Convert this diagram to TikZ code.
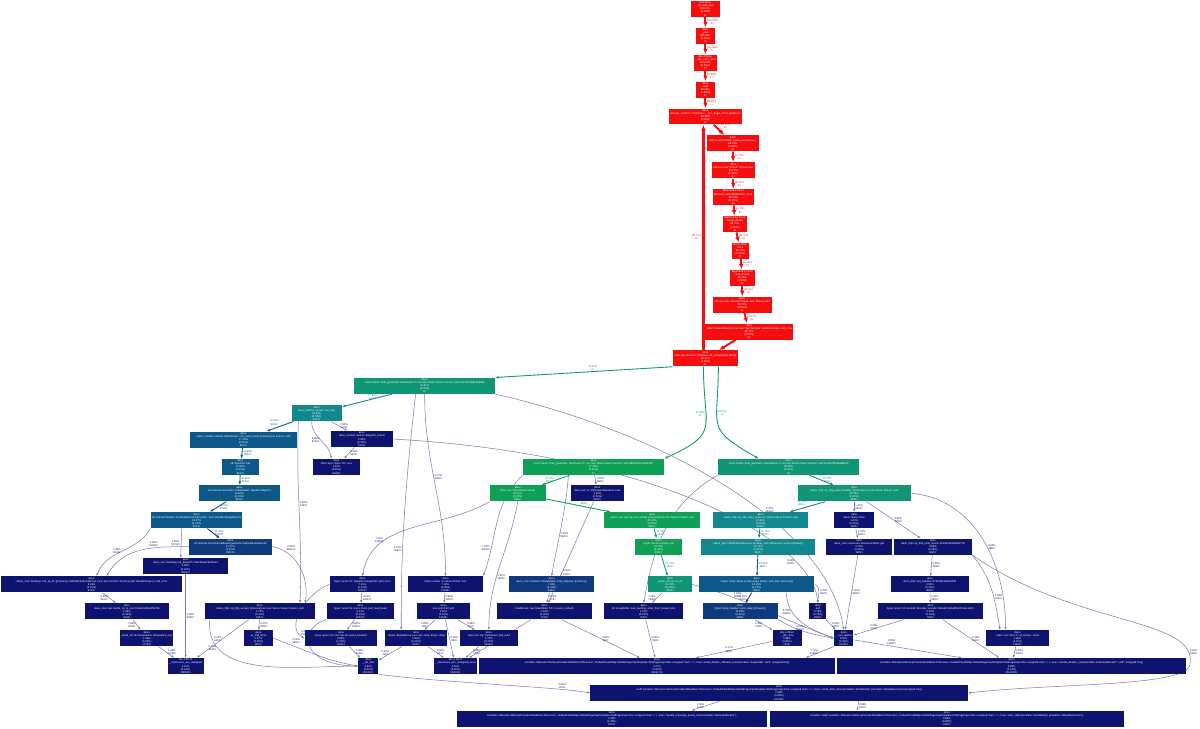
\documentclass[tikz,border=0pt]{standalone}
\usepackage{fontspec}
\setmainfont{Liberation Sans}
\usetikzlibrary{arrows.meta,backgrounds}
\definecolor{hotred}{RGB}{246,14,14}
\definecolor{navyc}{RGB}{14,19,112}
\definecolor{steelc}{RGB}{13,88,136}
\definecolor{bluec}{RGB}{15,58,128}
\definecolor{tealc}{RGB}{17,136,142}
\definecolor{seac}{RGB}{16,150,118}
\definecolor{greenc}{RGB}{13,160,86}
\newcommand\snalloc{snmalloc::Allocator<MemoryProviderStateMixin<PALLinux>, DefaultChunkMap<GlobalPagemapTemplate<FlatPagemap<20ul, unsigned char> > >, true>}
\tikzset{
  fn/.style={text=white,align=center,inner xsep=0.6pt,inner ysep=0.2pt,minimum height=0.32cm,font=\fontsize{1.5}{1.75}\selectfont},
  boxw/.style={minimum width=#1*0.02cm},
  hotfn/.style={fn,fill=hotred},
  coldfn/.style={fn,fill=navyc},
  steelfn/.style={fn,fill=steelc},
  bluefn/.style={fn,fill=bluec},
  tealfn/.style={fn,fill=tealc},
  seafn/.style={fn,fill=seac},
  greenfn/.style={fn,fill=greenc},
  call/.style={draw=navyc!55,line width=0.3pt,-{Latex[length=1.6pt,width=1.3pt]}},
  warmcall/.style={draw=#1,line width=0.5pt,-{Latex[length=2pt,width=1.6pt]}},
  hotcall/.style={draw=hotred,line width=1.1pt,-{Latex[length=3.2pt,width=2.6pt]}},
  lbl/.style={text=#1,font=\fontsize{1.5}{1.75}\selectfont,align=center,inner sep=0.5pt},
  lbl/.default=navyc
}
\begin{document}
\catcode`\_=12
\begin{tikzpicture}[x=0.02cm,y=-0.02cm]
  % hot thread chain
  \node[hotfn,boxw=29] (start) at (708.5,9) {ld-2.28.so\\_dl_start_user\\100.00\%\\(0.00\%)\\0×};
  \node[hotfn,boxw=19] (entry) at (708.5,36) {deno\\_start\\100.00\%\\(0.00\%)\\1×};
  \node[hotfn,boxw=19] (libcmain) at (708.5,63) {libc-2.28.so\\__libc_start_main\\100.00\%\\(0.00\%)\\1×};
  \node[hotfn,boxw=19] (main) at (708.5,90) {deno\\main\\99.99\%\\(0.00\%)\\1×};
  \node[hotfn,boxw=73] (shortbt) at (708.5,117) {deno\\std::sys_common::backtrace::__rust_begin_short_backtrace\\99.99\%\\(0.00\%)\\5×};
  \node[hotfn,boxw=52] (spawn) at (736,144) {deno\\std::thread::Builder::spawn_unchecked_\\99.71\%\\(0.00\%)\\4×};
  \node[hotfn,boxw=43] (threadnew) at (736.5,171) {deno\\std::sys::unix::thread::Thread::new\\99.71\%\\(0.00\%)\\4×};
  \node[hotfn,boxw=41] (pcreate) at (736.5,198) {libpthread-2.28.so\\pthread_create@@GLIBC_2.2.5\\99.71\%\\(0.00\%)\\4×};
  \node[hotfn,boxw=24] (cthread) at (738,225) {libpthread-2.28.so\\create_thread\\99.71\%\\(0.00\%)\\4×};
  \node[hotfn,boxw=17] (clone) at (743.5,252) {libc-2.28.so\\clone\\99.71\%\\(0.00\%)\\4×};
  \node[hotfn,boxw=25] (sthread) at (745.5,279) {libpthread-2.28.so\\start_thread\\99.71\%\\(0.00\%)\\4×};
  \node[hotfn,boxw=59] (tstart) at (745.5,306) {deno\\std::sys::unix::thread::Thread::new::thread_start\\99.71\%\\(0.00\%)\\4×};
  \node[hotfn,boxw=85] (boxcall) at (752.5,333) {deno\\<alloc::boxed::Box<F,A> as core::ops::function::FnOnce<Args>>::call_once\\99.71\%\\(0.00\%)\\4×};
  \node[hotfn,boxw=65] (vshim) at (708.5,360) {deno\\core::ops::function::FnOnce::call_once\{\{vtable.shim\}\}\\99.71\%\\(0.00\%)\\4×};
  % futures
  \node[seafn,boxw=141] (gen1) at (426.5,387.5) {deno\\<core::future::from_generator::GenFuture<T> as core::future::future::Future>::poll::h1f7d2c9a8e05b364\\32.87\%\\(0.04\%)\\0×};
  \node[greenfn,boxw=142] (gen2) at (596,469) {deno\\<core::future::from_generator::GenFuture<T> as core::future::future::Future>::poll::h8b04e61c5a93d2f7\\37.36\%\\(0.01\%)\\0×};
  \node[seafn,boxw=142] (gen3) at (792,469) {deno\\<core::future::from_generator::GenFuture<T> as core::future::future::Future>::poll::h3c9a7f02d4e8b615\\29.45\%\\(0.02\%)\\0×};
  % worker side
  \node[tealfn,boxw=50] (runloop) at (318,415) {deno\\deno_runtime::worker::run_loop\\32.61\%\\(0.03\%)\\8104×};
  \node[coldfn,boxw=63] (dispatch) at (363.5,441) {deno\\deno_runtime::worker::dispatch_events\\2.98\%\\(0.02\%)\\9120×};
  \node[coldfn,boxw=48] (recv) at (338,469) {deno\\tokio::sync::mpsc::Rx::recv\\1.02\%\\(0.55\%)\\18240×};
  \node[steelfn,boxw=107] (evloop) at (244.5,441.5) {deno\\<deno_runtime::worker::MainWorker::run_event_loop::\{\{closure\}\} as Future>::poll\\17.16\%\\(0.02\%)\\8104×};
  \node[steelfn,boxw=37] (fncall) at (241.5,469) {deno\\v8::Function::call\\16.98\%\\(0.01\%)\\8104×};
  \node[steelfn,boxw=81] (execcall) at (240.5,495.5) {deno\\v8::internal::Execution::Call(Isolate*, Handle<Object>)\\16.90\%\\(0.03\%)\\8104×};
  \node[steelfn,boxw=91] (invokeapi) at (197.5,522.5) {deno\\v8::internal::Builtins::InvokeApiFunction(Isolate*, bool, Handle<HeapObject>)\\15.27\%\\(0.21\%)\\8104×};
  \node[bluefn,boxw=83] (cbargs) at (231.5,549) {deno\\v8::internal::FunctionCallbackArguments::Call(CallHandlerInfo)\\11.37\%\\(0.12\%)\\30012×};
  \node[coldfn,boxw=85] (opdispatch) at (186.5,568.5) {deno\\deno_core::bindings::op_dispatch::h2e1f00a9c3d7b4e1\\3.82\%\\(0.40\%)\\30012×};
  \node[coldfn,boxw=182] (callopfn) at (92,587) {deno\\<deno_core::bindings::call_op_fn::\{\{closure\}\}::h44f1b2c0e9a7d6c3 as core::ops::function::FnOnce<(v8::HandleScope,)>>::call_once\\3.18\%\\(0.21\%)\\8104×};
  \node[coldfn,boxw=85] (torust) at (127.5,614) {deno\\deno_core::ops::serde_v8_to_rust::hb1a5c2d3e4f56789\\2.48\%\\(0.30\%)\\8104×};
  \node[coldfn,boxw=53] (deany) at (147.5,641) {deno\\serde_v8::de::Deserializer::deserialize_any\\1.69\%\\(0.62\%)\\17233×};
  \node[coldfn,boxw=33] (memmove) at (186.5,669) {libc-2.28.so\\__memmove_avx_unaligned\\2.91\%\\(2.91\%)\\290330×};
  \node[coldfn,boxw=110] (httpaccept) at (261,614) {deno\\<deno_http::op_http_accept::\{\{closure\}\} as core::future::future::Future>::poll\\2.74\%\\(0.11\%)\\4410×};
  \node[coldfn,boxw=29] (httpwrite) at (259.5,641) {deno\\op_http_write\\0.37\%\\(0.09\%)\\1850×};
  % hyper side
  \node[coldfn,boxw=66] (dispatcher) at (364,587) {deno\\hyper::proto::h1::dispatch::Dispatcher::poll_inner\\7.16\%\\(0.20\%)\\12022×};
  \node[coldfn,boxw=68] (readhead) at (362,614) {deno\\hyper::proto::h1::conn::Conn::poll_read_head\\4.21\%\\(0.18\%)\\12022×};
  \node[coldfn,boxw=73] (parsehdr) at (342.5,641) {deno\\hyper::proto::h1::role::Server::parse_headers\\2.68\%\\(1.10\%)\\12022×};
  \node[coldfn,boxw=20] (rdlalloc) at (370,669) {deno\\__rdl_alloc\\3.60\%\\(0.40\%)\\201220×};
  \node[coldfn,boxw=75] (ioturn) at (447.5,587) {deno\\tokio::runtime::io::driver::Driver::turn\\7.32\%\\(0.35\%)\\12640×};
  \node[coldfn,boxw=53] (mpoll) at (445.5,614) {deno\\mio::poll::Poll::poll\\2.81\%\\(0.13\%)\\12640×};
  \node[coldfn,boxw=62] (bytesdrop) at (418,641) {deno\\<bytes::BytesMut as core::ops::drop::Drop>::drop\\0.94\%\\(0.22\%)\\9120×};
  \node[coldfn,boxw=41] (memcpy) at (457.5,669) {libc-2.28.so\\__memmove_avx_unaligned_erms\\4.05\%\\(4.05\%)\\512004×};
  \node[coldfn,boxw=58] (tcpread) at (491,641) {deno\\tokio::net::tcp::TcpStream::poll_read\\1.79\%\\(0.31\%)\\12640×};
  \node[bluefn,boxw=86] (modeval) at (554,587) {deno\\deno_core::modules::ModuleMap::mod_evaluate::\{\{closure\}\}\\7.06\%\\(0.04\%)\\3820×};
  \node[coldfn,boxw=96] (rehash) at (547,614) {deno\\hashbrown::raw::RawTable<T,A>::reserve_rehash\\0.63\%\\(0.48\%)\\1210×};
  \node[greenfn,boxw=56] (listener) at (520,495.5) {deno\\tokio::net::TcpListener::accept\\25.41\%\\(0.03\%)\\3820×};
  \node[coldfn,boxw=54] (tcpres) at (600,495.5) {deno\\deno_net::io::TcpStreamResource::new\\1.22\%\\(0.10\%)\\3820×};
  % http side
  \node[greenfn,boxw=96] (netaccept) at (655,522.5) {deno\\<deno_net::ops::op_net_accept::\{\{closure\}\} as core::future::Future>::poll\\21.82\%\\(0.02\%)\\3820×};
  \node[greenfn,boxw=47] (accept) at (661.5,549) {deno\\hyper::server::accept::poll\\21.78\%\\(0.02\%)\\3820×};
  \node[seafn,boxw=44] (tov8) at (673,587) {deno\\serde_v8::ser::to_v8\\21.70\%\\(0.05\%)\\3820×};
  \node[coldfn,boxw=79] (backing) at (646.5,614) {deno\\v8::ArrayBuffer::new_backing_store_from_boxed_slice\\1.76\%\\(0.21\%)\\7640×};
  \node[seafn,boxw=114] (respwrite) at (858,495.5) {deno\\<deno_http::op_http_write_headers::\{\{closure\}\} as core::future::Future>::poll\\22.78\%\\(0.01\%)\\3820×};
  \node[tealfn,boxw=96] (writeres) at (764,522.5) {deno\\<deno_http::op_http_write_resource::\{\{closure\}\} as Future>::poll\\13.82\%\\(0.02\%)\\3820×};
  \node[coldfn,boxw=40] (bytesfrom) at (858,522.5) {deno\\bytes::Bytes::from\\1.43\%\\(0.20\%)\\3820×};
  \node[tealfn,boxw=115] (readreturn) at (761.5,549) {deno\\<deno_http::HttpStreamResource as deno_core::Resource>::write::\{\{closure\}\}\\13.76\%\\(0.04\%)\\3820×};
  \node[coldfn,boxw=66] (restable) at (863,549) {deno\\deno_core::resources::ResourceTable::get\\0.78\%\\(0.23\%)\\3820×};
  \node[steelfn,boxw=116] (reswrite) at (760,587) {deno\\<hyper::body::Body as http_body::Body>::poll_data::\{\{closure\}\}\\13.20\%\\(0.12\%)\\3820×};
  \node[bluefn,boxw=75] (senddata) at (743.5,614) {deno\\hyper::body::Sender::send_data::\{\{closure\}\}\\11.65\%\\(0.34\%)\\3820×};
  \node[coldfn,boxw=17] (pollfn) at (821.5,614) {deno\\poll\\0.78\%\\(0.78\%)\\3820×};
  \node[coldfn,boxw=29] (libcfree) at (790.5,641) {libc-2.28.so\\__libc_free\\0.98\%\\(0.81\%)\\7640×};
  \node[coldfn,boxw=19] (rustdealloc) at (847.5,641) {deno\\__rust_dealloc\\8.52\%\\(0.31\%)\\91240×};
  \node[coldfn,boxw=78] (readchunk) at (937,549) {deno\\deno_http::op_http_read_chunk::he1d2c3b4a5968778\\3.86\%\\(0.28\%)\\3820×};
  \node[coldfn,boxw=78] (reqheaders) at (934,587) {deno\\deno_http::req_headers::h7f0c9b1a2d3e4f56\\0.55\%\\(0.10\%)\\3820×};
  \node[coldfn,boxw=105] (encode) at (934.5,614) {deno\\hyper::proto::h1::encode::Encoder::encode::h91ab2c3d4e5f6a7b.llvm.4217\\2.30\%\\(0.16\%)\\7640×};
  \node[coldfn,boxw=64] (vecclone) at (1022,641) {deno\\<alloc::vec::Vec<T> as Clone>::clone\\2.86\%\\(0.37\%)\\11460×};
  % allocator
  \node[coldfn,boxw=358] (smalldealloc) at (660,669) {deno\\\snalloc::small_dealloc_offseted_inner(snmalloc::Superslab*, void*, unsigned long)\\4.27\%\\(3.90\%)\\2983174×};
  \node[coldfn,boxw=350] (remotedealloc) at (1016,669) {deno\\\snalloc::remote_dealloc_slow(snmalloc::RemoteAllocator*, void*, unsigned long)\\4.98\%\\(2.61\%)\\1502290×};
  \node[coldfn,boxw=379] (smallalloc) at (782.5,696) {deno\\void* \snalloc::small_alloc_slow<(snmalloc::ZeroMem)0, (snmalloc::AllowReserve)1>(unsigned long)\\2.58\%\\(0.66\%)\\120310×};
  \node[coldfn,boxw=311] (msgqueue) at (614.5,722) {deno\\\snalloc::handle_message_queue_inner(snmalloc::RemoteAllocator*)\\1.05\%\\(1.05\%)\\5210×};
  \node[coldfn,boxw=356] (allocslab) at (951,722) {deno\\snmalloc::Slab* \snalloc::alloc_slab<(snmalloc::ZeroMem)0, (snmalloc::AllowReserve)1>()\\0.86\%\\(0.80\%)\\4410×};

  \begin{scope}[on background layer]
    \fill[white] (0,0) rectangle (1200,732);
    % hot chain
    \draw[hotcall] (start) -- node[lbl=hotred,right]{100.00\%\\0×} (entry);
    \draw[hotcall] (entry) -- node[lbl=hotred,right]{100.00\%\\1×} (libcmain);
    \draw[hotcall] (libcmain) -- node[lbl=hotred,right]{99.99\%\\1×} (main);
    \draw[hotcall] (main) -- node[lbl=hotred,right]{99.99\%\\1×} (shortbt);
    \draw[hotcall] (shortbt) -- node[lbl=hotred,above right]{99.71\%\\4×} (spawn);
    \draw[hotcall] (spawn) -- node[lbl=hotred,right]{99.71\%\\4×} (threadnew);
    \draw[hotcall] (threadnew) -- node[lbl=hotred,right]{99.71\%\\4×} (pcreate);
    \draw[hotcall] (pcreate) -- node[lbl=hotred,right]{99.71\%\\4×} (cthread);
    \draw[hotcall] (cthread) -- node[lbl=hotred,right]{99.71\%\\4×} (clone);
    \draw[hotcall] (clone) -- node[lbl=hotred,right]{99.71\%\\4×} (sthread);
    \draw[hotcall] (sthread) -- node[lbl=hotred,right]{99.71\%\\4×} (tstart);
    \draw[hotcall] (tstart) -- node[lbl=hotred,right]{99.71\%\\4×} (boxcall);
    \draw[hotcall] (boxcall) -- node[lbl=hotred,above right]{99.71\%\\4×} (vshim);
    \draw[hotcall,line width=1.6pt] ([xshift=-0.04cm]vshim.north) -- node[lbl=hotred,left]{99.71\%\\4×} ([xshift=-0.04cm]shortbt.south);
    % out of the thread closure
    \draw[warmcall=seac] (vshim.south west) -- node[lbl=seac,above,pos=0.45]{32.87\%\\0×} (gen1.north east);
    \draw[warmcall=greenc] ([xshift=-0.04cm]vshim.south) to[out=-90,in=25,looseness=1.6] node[lbl=greenc,left,pos=0.35]{37.36\%\\0×} (gen2.north east);
    \draw[warmcall=seac] ([xshift=0.26cm]vshim.south) to[out=-90,in=150,looseness=1.6] node[lbl=seac,right,pos=0.35]{29.45\%\\0×} ([xshift=-0.6cm]gen3.north);
    % worker side
    \draw[warmcall=tealc] (gen1) -- node[lbl=tealc,above right]{17.85\%\\8104×} (runloop);
    \draw[call] (gen1.south) to[out=-90,in=90] node[lbl,right,pos=0.45]{0.17\%\\2980×} (ioturn.north);
    \draw[call] ([xshift=-0.18cm]gen1.south) .. controls (403,520) and (403,580) .. node[lbl,left,pos=0.55]{0.22\%\\3820×} ([xshift=-0.3cm]bytesdrop.north);
    \draw[call] (gen1.south east) .. controls (650,430) and (830,520) .. node[lbl,pos=0.62,above right]{1.37\%\\40412×} (rustdealloc.north);
    \draw[call] (runloop) -- node[lbl,right]{2.98\%\\9120×} (dispatch);
    \draw[call] ([xshift=-0.1cm]runloop.south) to[out=-90,in=100] node[lbl,left]{0.58\%\\9120×} ([xshift=-0.1cm]recv.north);
    \draw[call] (dispatch) -- node[lbl,right]{0.44\%\\9120×} (recv);
    \draw[call] (dispatch.east) .. controls (650,455) and (815,540) .. node[lbl,pos=0.8,left]{0.24\%\\9120×} (pollfn.north);
    \draw[warmcall=steelc] (runloop) -- node[lbl=steelc,above left]{17.16\%\\8104×} (evloop);
    \draw[call] ([xshift=0.14cm]runloop.south west) to[out=-92,in=88] node[lbl,right,pos=0.45]{1.66\%\\9120×} ([xshift=-0.3cm]httpaccept.north east);
    \draw[warmcall=steelc] (evloop) -- node[lbl=steelc,right]{16.98\%\\8104×} (fncall);
    \draw[warmcall=steelc] (fncall) -- node[lbl=steelc,right]{16.90\%\\8104×} (execcall);
    \draw[warmcall=steelc] (execcall) -- node[lbl=steelc,right]{15.27\%\\8104×} (invokeapi);
    \draw[warmcall=bluec] (invokeapi) -- node[lbl=bluec,right]{11.37\%\\30012×} (cbargs);
    \draw[call] ([xshift=-0.3cm]invokeapi.south) -- node[lbl,left]{3.82\%\\30012×} ([xshift=-0.1cm]opdispatch.north);
    \draw[call] (invokeapi.south west) to[out=-120,in=70] node[lbl,left]{3.18\%\\8104×} ([xshift=0.1cm]callopfn.north);
    \draw[call] (cbargs.west) to[out=180,in=60] node[lbl,above left,pos=0.3]{2.46\%\\21908×} ([xshift=0.3cm]callopfn.north);
    \draw[call] (cbargs.east) to[out=-10,in=80] node[lbl,above right,pos=0.2]{0.83\%\\30012×} ([xshift=-0.2cm]httpaccept.north east);
    \draw[call] (opdispatch) -- node[lbl,right]{0.90\%\\3820×} (memmove);
    \draw[call] (callopfn) -- node[lbl,left]{2.48\%\\8104×} (torust);
    \draw[call] (torust) -- node[lbl,left]{1.69\%\\8104×} (deany);
    \draw[call] (deany) -- node[lbl,right]{1.48\%\\17233×} (memmove);
    \draw[call] (httpaccept) -- node[lbl,left]{0.13\%\\4410×} (memmove);
    \draw[call] (httpaccept) -- node[lbl,right]{0.37\%\\1850×} (httpwrite);
    \draw[call] ([xshift=0.1cm]httpaccept.south west) to[out=-95,in=180] node[lbl,left,pos=0.2]{0.15\%\\4410×} (rdlalloc.west);
    \draw[call] (httpwrite.east) to[out=-20,in=170] node[lbl,above right,pos=0.2]{2.28\%\\1850×} (rdlalloc.west);
    % hyper side
    \draw[call] (listener.south west) to[out=-150,in=80] node[lbl,left,pos=0.7]{7.16\%\\12022×} (dispatcher.north);
    \draw[call] (gen2.south west) to[out=-135,in=70] node[lbl,left,pos=0.75]{7.32\%\\12640×} (ioturn.north east);
    \draw[call] (listener.south) to[out=-100,in=90] node[lbl,right,pos=0.6]{0.41\%\\3820×} (tcpread.north);
    \draw[call] ([xshift=-0.5cm]gen2.south) to[out=-95,in=80] node[lbl,right,pos=0.6]{7.06\%\\3820×} (modeval.north);
    \draw[call] (tcpres) -- node[lbl,right,pos=0.7]{0.10\%\\1210×} (rehash);
    \draw[call] (dispatcher) -- node[lbl,right]{4.21\%\\12022×} (readhead);
    \draw[call] (dispatcher.west) to[out=-160,in=150] node[lbl,left]{0.33\%\\4410×} (parsehdr.west);
    \draw[call] (readhead) -- node[lbl,right]{2.68\%\\12022×} (parsehdr);
    \draw[call] (readhead.south west) .. controls (300,630) and (300,668) .. node[lbl,left,pos=0.3]{0.40\%\\2210×} (rdlalloc.west);
    \draw[call] (parsehdr) -- node[lbl,right]{0.08\%\\1200×} (rdlalloc);
    \draw[call] (ioturn) -- node[lbl,right]{0.98\%\\2450×} (mpoll);
    \draw[call] (mpoll) -- node[lbl,left]{0.09\%\\880×} (bytesdrop);
    \draw[call] (mpoll) -- node[lbl,right]{0.09\%\\880×} (memcpy);
    \draw[call] (mpoll) -- node[lbl,right]{0.08\%\\612×} (tcpread);
    \draw[call] (bytesdrop) -- node[lbl,left]{0.02\%\\218×} (rdlalloc);
    \draw[call] (bytesdrop) -- node[lbl,right]{0.08\%\\612×} (memcpy);
    \draw[call] (tcpread) -- node[lbl,right]{0.28\%\\1850×} (memcpy);
    \draw[call] (modeval) -- node[lbl,right]{0.02\%\\218×} (rehash);
    \draw[call] (rehash) -- node[lbl,left]{0.10\%\\1210×} (memcpy);
    \draw[call] (rehash) -- node[lbl,right]{0.03\%\\404×} (smalldealloc);
    \draw[call] (rdlalloc.south east) .. controls (450,686) and (560,690) .. node[lbl,above,pos=0.8]{0.08\%\\1210×} (smallalloc.west);
    % accept side
    \draw[warmcall=greenc] (gen2) -- node[lbl=greenc,left]{25.41\%\\3820×} (listener);
    \draw[call] (gen2) -- node[lbl,right]{1.22\%\\3820×} (tcpres);
    \draw[warmcall=greenc] (listener) -- node[lbl=greenc,above right]{21.82\%\\3820×} (netaccept);
    \draw[warmcall=greenc] (netaccept) -- node[lbl=greenc,right]{21.78\%\\3820×} (accept);
    \draw[warmcall=seac] (accept) -- node[lbl=seac,right]{21.70\%\\3820×} (tov8);
    \draw[call] (tov8) -- node[lbl,left]{1.76\%\\7640×} (backing);
    \draw[call] (tov8.east) to[out=-15,in=160] node[lbl,above,pos=0.3]{0.45\%\\3820×} (rustdealloc.west);
    \draw[call] (backing) -- node[lbl,right]{0.86\%\\7640×} (smalldealloc);
    % write side
    \draw[warmcall=seac] (gen3) -- node[lbl=seac,right]{22.78\%\\3820×} (respwrite);
    \draw[call] (gen3.south west) to[out=-150,in=80] node[lbl,left,pos=0.4]{0.83\%\\3820×} (backing.north);
    \draw[warmcall=tealc] (respwrite) -- node[lbl=tealc,above left]{12.78\%\\3820×} (writeres);
    \draw[call] (respwrite) -- node[lbl,right]{1.43\%\\3820×} (bytesfrom);
    \draw[call] (respwrite) -- node[lbl,right]{3.86\%\\3820×} (readchunk);
    \draw[call] (respwrite.east) to[out=-5,in=90] node[lbl,right,pos=0.55]{2.86\%\\3820×} ([xshift=-0.24cm]vecclone.north);
    \draw[warmcall=tealc] (writeres) -- node[lbl=tealc,right]{13.76\%\\3820×} (readreturn);
    \draw[warmcall=steelc] (readreturn) -- node[lbl=steelc,right]{13.20\%\\3820×} (reswrite);
    \draw[warmcall=bluec] (reswrite) -- node[lbl=bluec,left]{11.65\%\\3820×} (senddata);
    \draw[call] ([xshift=0.6cm]reswrite.south) to[out=-90,in=160] node[lbl,left,pos=0.3]{6.78\%\\31950×} (rustdealloc.west);
    \draw[call] (reswrite.east) to[out=-20,in=90] node[lbl,right]{0.78\%\\3820×} (pollfn.north);
    \draw[call] (senddata) -- node[lbl,left]{2.38\%\\7640×} (libcfree);
    \draw[call] (senddata.south east) to[out=-30,in=170] node[lbl,right,pos=0.3]{4.26\%\\19210×} (rustdealloc.west);
    \draw[call] (pollfn) -- node[lbl,right]{0.78\%\\3820×} (rustdealloc);
    \draw[call] (libcfree) -- node[lbl,left]{0.17\%\\1850×} (smalldealloc);
    \draw[call] (rustdealloc.south west) -- node[lbl,left]{1.72\%\\31950×} ([xshift=-0.6cm]smalldealloc.north east);
    \draw[call] (rustdealloc) -- node[lbl,above,pos=0.35]{2.05\%\\15020×} (remotedealloc);
    \draw[call] (bytesfrom) -- node[lbl,right]{0.78\%\\3820×} (restable);
    \draw[call] (restable) -- node[lbl,right]{0.55\%\\3820×} (rustdealloc);
    \draw[call] (readchunk) -- node[lbl,right]{0.55\%\\3820×} (reqheaders);
    \draw[call] (reqheaders) -- node[lbl,right]{2.30\%\\3820×} (encode);
    \draw[call] (readchunk.south east) to[out=-50,in=100] node[lbl,right,pos=0.6]{2.58\%\\7640×} ([xshift=-0.35cm]vecclone.north);
    \draw[call] (encode) -- node[lbl,left]{3.42\%\\7640×} (rustdealloc);
    \draw[call] (encode) -- node[lbl,right]{2.38\%\\7640×} (remotedealloc);
    \draw[call] (vecclone) -- node[lbl,right]{0.43\%\\3820×} (remotedealloc);
    \draw[call] (readchunk.south east) .. controls (1080,630) and (1205,620) .. node[lbl,right,pos=0.9]{0.40\%\\1850×} (1195,668) .. controls (1190,690) and (1060,686) .. (smallalloc.east);
    \draw[call] ([xshift=-1.2cm]smallalloc.south) -- node[lbl,left]{1.05\%\\5210×} ([xshift=1.6cm]msgqueue.north);
    \draw[call] ([xshift=1.6cm]smallalloc.south) -- node[lbl,right]{0.86\%\\4410×} ([xshift=-1.8cm]allocslab.north);
  \end{scope}
  \useasboundingbox (0,0) rectangle (1200,732);
\end{tikzpicture}
\end{document}
